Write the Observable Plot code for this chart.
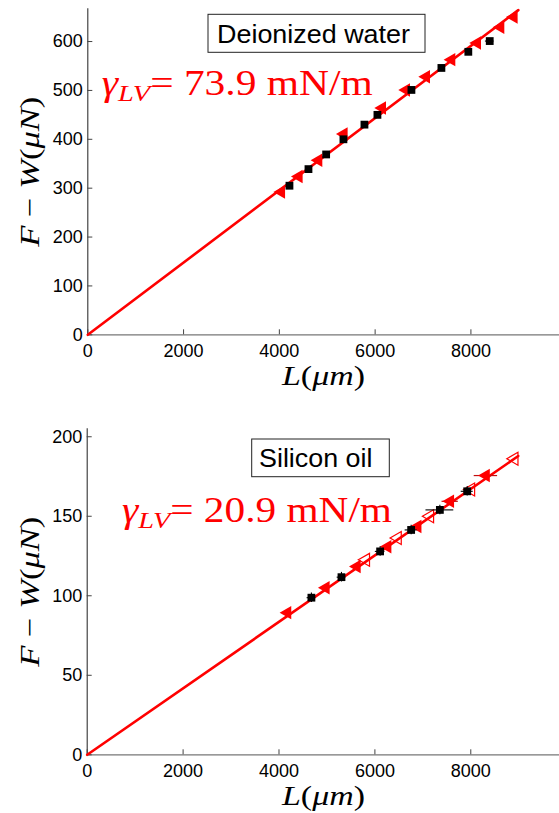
<!DOCTYPE html>
<html><head><meta charset="utf-8">
<script src="https://cdn.jsdelivr.net/npm/d3@7"></script>
<script src="https://cdn.jsdelivr.net/npm/@observablehq/plot@0.6"></script>
<style>
body{margin:0;background:#fff;}
#wrap{position:relative;width:559px;height:813px;overflow:hidden;}
#top{position:absolute;left:0;top:0}
#bot{position:absolute;left:0;top:420px}
#ov{position:absolute;left:0;top:0;pointer-events:none}
</style></head><body>
<div id="wrap"><div id="top"></div><div id="bot"></div><svg id="ov" width="559" height="813"></svg></div>
<script>
// ---- tick labels ----
const xTicks = [0, 2000, 4000, 6000, 8000];
const yTicksTop = [0, 100, 200, 300, 400, 500, 600];
const yTicksBot = [0, 50, 100, 150, 200];

// ---- Deionized water (top) ----
const waterSqL = [4211, 4608, 4977, 5338, 5777, 6048, 6758, 7384, 7946, 8393];
const waterSqF = [305, 339, 369, 400, 430, 450, 501, 546, 579, 601];
const waterSqEx = [0, 0, 0, 0, 0, 0, 0, 60, 0, 90];
const waterTriL = [4038, 4405, 4816, 5344, 6146, 6647, 7065, 7593, 8129, 8616, 8894];
const waterTriF = [292, 324, 357, 411, 464, 501, 528, 563, 597, 629, 650];
const waterGamma = 0.0739; // uN per um (73.9 mN/m)
const fitRange = [0, 8990];

// ---- Silicon oil (bottom) ----
const oilSqL = [4676, 5303, 6109, 6756, 7355, 7925];
const oilSqF = [98.8, 111.7, 127.9, 141.4, 154.0, 165.7];
const oilSqEx = [90, 90, 100, 125, 290, 125];
const oilSqEy = [3, 3, 3, 3, 3, 3];
const oilTriL = [4175, 4975, 5622, 6263, 6889, 7570, 8315];
const oilTriF = [89.4, 105.1, 118.4, 130.8, 143.6, 159.4, 175.6];
const oilTriEx = [0, 0, 0, 0, 60, 170, 244];
const oilOpenL = [5810, 6472, 7146, 8002, 8906];
const oilOpenF = [122.6, 136.3, 150.0, 166.8, 186.2];
const oilGamma = 0.0209;

// ---- text ----
const panelTitles = ["Deionized water", "Silicon oil"];
const gammaValues = ["73.9", "20.9"];

const zip = (a, b, c, d) => a.map((v, i) => ({L: v, F: b[i], ex: c ? c[i] : 0, ey: d ? d[i] : 0}));

function panel({height, mLeft, mTop, mBottom, yMax, yTicks, sq, tri, open, gamma}) {
  const W = 559, xMax = 9850;
  const innerH = height - mTop - mBottom;
  const innerW = W - mLeft;
  const fit = fitRange.map(L => ({L, F: gamma * L}));
  const marks = [
    Plot.ruleY([0], {stroke: "#777", strokeWidth: 1.3}),
    Plot.ruleX([0], {stroke: "#333", strokeWidth: 1.1}),
    Plot.tickX(xTicks, {x: d => d, insetTop: innerH - 5, stroke: "#444"}),
    Plot.tickY(yTicks, {y: d => d, insetRight: innerW - 5, stroke: "#444"}),
    Plot.axisX(xTicks, {tickSize: 0, tickPadding: 9, label: null, fontSize: 18, tickFormat: d => String(d)}),
    Plot.axisY(yTicks, {tickSize: 0, tickPadding: 5, label: null, fontSize: 18, tickFormat: d => String(d)}),
    Plot.line(fit, {x: "L", y: "F", stroke: "#ff0000", strokeWidth: 2.6}),
  ];
  if (open) {
    marks.push(Plot.dot(open, {x: "L", y: "F", symbol: "triangle", r: 4.8, rotate: -90, stroke: "#ff0000", fill: "white", fillOpacity: 0, strokeWidth: 1.2}));
  }
  const triE = tri.filter(d => d.ex > 0);
  marks.push(
    Plot.ruleY(triE, {y: "F", x1: d => d.L - d.ex, x2: d => d.L + d.ex, stroke: "#c01010", strokeWidth: 1.2}),
    Plot.dot(tri, {x: "L", y: "F", symbol: "triangle", r: 5, rotate: -90, fill: "#ff0000"})
  );
  const sqE = sq.filter(d => d.ex > 0);
  const sqEy = sq.filter(d => d.ey > 0);
  marks.push(
    Plot.ruleY(sqE, {y: "F", x1: d => d.L - d.ex, x2: d => d.L + d.ex, stroke: "black", strokeWidth: 1.1}),
    Plot.ruleX(sqEy, {x: "L", y1: d => d.F - d.ey, y2: d => d.F + d.ey, stroke: "black", strokeWidth: 1.1}),
    Plot.dot(sq, {x: "L", y: "F", symbol: "square", r: 4.4, fill: "black"})
  );
  return Plot.plot({
    width: W, height,
    marginLeft: mLeft, marginRight: 0, marginTop: mTop, marginBottom: mBottom,
    x: {domain: [0, xMax]},
    y: {domain: [0, yMax]},
    style: {fontFamily: "'Liberation Sans', Arial, sans-serif", fontSize: "18px", color: "#000", background: "white", overflow: "visible"},
    marks
  });
}

document.getElementById("top").append(panel({
  height: 420, mLeft: 87.3, mTop: 8.3, mBottom: 85.7, yMax: 667, yTicks: yTicksTop,
  sq: zip(waterSqL, waterSqF, waterSqEx), tri: zip(waterTriL, waterTriF), open: null, gamma: waterGamma
}));
document.getElementById("bot").append(panel({
  height: 393, mLeft: 86.7, mTop: 8.3, mBottom: 58.7, yMax: 205, yTicks: yTicksBot,
  sq: zip(oilSqL, oilSqF, oilSqEx, oilSqEy), tri: zip(oilTriL, oilTriF, oilTriEx), open: zip(oilOpenL, oilOpenF), gamma: oilGamma
}));

// ---- overlay text ----
const ov = d3.select("#ov");
const serif = "'Liberation Serif', 'Times New Roman', serif";
const sans = "'Liberation Sans', Arial, sans-serif";
const boxes = [
  {t: panelTitles[0], x0: 208, y0: 14.3, x1: 425, y1: 52.3, tx: 217, ty: 42.7, tw: 193},
  {t: panelTitles[1], x0: 251.7, y0: 439, x1: 389.3, y1: 476.7, tx: 259, ty: 466.5, tw: 113.5}
];
boxes.forEach(b => {
  ov.append("rect").attr("x", b.x0).attr("y", b.y0).attr("width", b.x1 - b.x0).attr("height", b.y1 - b.y0)
    .attr("fill", "white").attr("stroke", "#222").attr("stroke-width", 1);
  ov.append("text").attr("x", b.tx).attr("y", b.ty).attr("font-family", sans).attr("font-size", 26)
    .attr("textLength", b.tw).attr("lengthAdjust", "spacingAndGlyphs").text(b.t);
});
const gl = [{v: gammaValues[0], x: 101.7, y: 95, w: 271}, {v: gammaValues[1], x: 122, y: 521.5, w: 270}];
gl.forEach(g => {
  const t = ov.append("text").attr("x", g.x).attr("y", g.y).attr("font-family", serif).attr("font-size", 35)
    .attr("fill", "#ff0000").attr("textLength", g.w).attr("lengthAdjust", "spacingAndGlyphs");
  t.append("tspan").attr("font-style", "italic").text("γ");
  t.append("tspan").attr("font-style", "italic").attr("font-size", 24).attr("dy", 6).text("LV");
  t.append("tspan").attr("dy", -6).text("= " + g.v + " mN/m");
});
// axis labels
[{cy: 171.7, bx: 38.5}, {cy: 591.7, bx: 38.5}].forEach(a => {
  const t = ov.append("text").attr("transform", `translate(${a.bx},${a.cy}) rotate(-90)`)
    .attr("text-anchor", "middle").attr("font-family", serif).attr("font-size", 28)
    .attr("textLength", 150).attr("lengthAdjust", "spacingAndGlyphs");
  t.append("tspan").attr("font-style", "italic").text("F");
  t.append("tspan").text(" − ");
  t.append("tspan").attr("font-style", "italic").text("W");
  t.append("tspan").text("(");
  t.append("tspan").attr("font-style", "italic").text("μN");
  t.append("tspan").text(")");
});
[{x: 282, y: 385}, {x: 282, y: 805}].forEach(a => {
  const t = ov.append("text").attr("x", a.x).attr("y", a.y).attr("font-family", serif).attr("font-size", 28)
    .attr("textLength", 83).attr("lengthAdjust", "spacingAndGlyphs");
  t.append("tspan").attr("font-style", "italic").text("L");
  t.append("tspan").text("(");
  t.append("tspan").attr("font-style", "italic").text("μm");
  t.append("tspan").text(")");
});
</script>
</body></html>
